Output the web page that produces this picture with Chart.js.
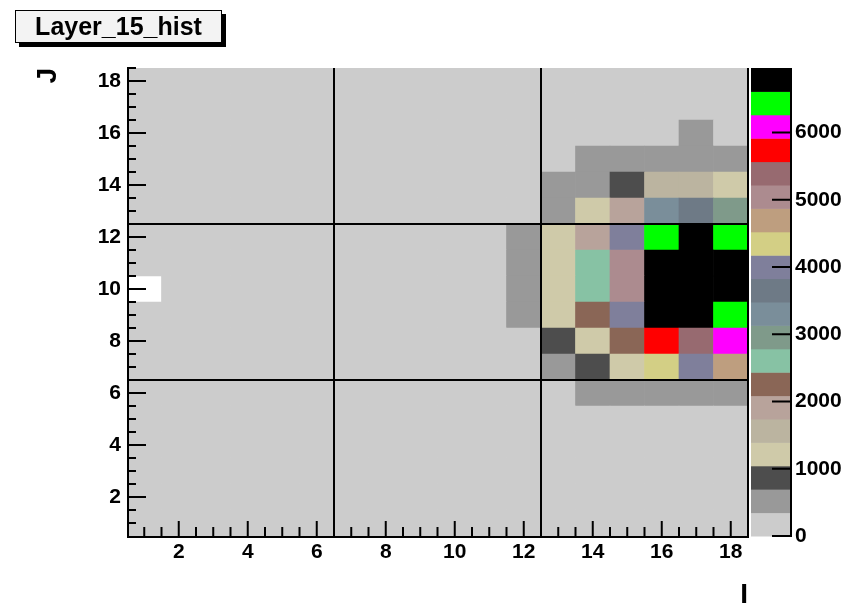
<!DOCTYPE html>
<html>
<head>
<meta charset="utf-8">
<title>Layer_15_hist</title>
<script src="https://cdn.jsdelivr.net/npm/chart.js@4.4.1/dist/chart.umd.min.js"></script>
<style>
    body { margin: 0; background: #fff; }
    #wrap { position: relative; width: 849px; height: 606px; }
    #histTitle {
        position: absolute; left: 15px; top: 10px;
        width: 207px; height: 33px; box-sizing: border-box;
        border: 1px solid #000; background: #f3f3f3;
        box-shadow: 4px 4px 0 #000;
        font: bold 25px "Liberation Sans", Arial, sans-serif;
        line-height: 31px; text-align: center; color: #000;
    }
</style>
</head>
<body>
<div id="wrap">
    <canvas id="layer-hist" width="849" height="606"></canvas>
    <div id="histTitle">Layer_15_hist</div>
</div>
<script>
'use strict';

// bin centres
const binsI = [1, 2, 3, 4, 5, 6, 7, 8, 9, 10, 11, 12, 13, 14, 15, 16, 17, 18];
const binsJ = [1, 2, 3, 4, 5, 6, 7, 8, 9, 10, 11, 12, 13, 14, 15, 16, 17, 18];

// cell contents, one array per J row, I = 1..18
const rowJ1  = [120, 120, 120, 120, 120, 120, 120, 120, 120, 120, 120, 120, 120, 120, 120, 120, 120, 120];
const rowJ2  = [120, 120, 120, 120, 120, 120, 120, 120, 120, 120, 120, 120, 120, 120, 120, 120, 120, 120];
const rowJ3  = [120, 120, 120, 120, 120, 120, 120, 120, 120, 120, 120, 120, 120, 120, 120, 120, 120, 120];
const rowJ4  = [120, 120, 120, 120, 120, 120, 120, 120, 120, 120, 120, 120, 120, 120, 120, 120, 120, 120];
const rowJ5  = [120, 120, 120, 120, 120, 120, 120, 120, 120, 120, 120, 120, 120, 120, 120, 120, 120, 120];
const rowJ6  = [120, 120, 120, 120, 120, 120, 120, 120, 120, 120, 120, 120, 120, 520, 520, 520, 520, 520];
const rowJ7  = [120, 120, 120, 120, 120, 120, 120, 120, 120, 120, 120, 120, 520, 870, 1220, 4350, 4000, 4700];
const rowJ8  = [120, 120, 120, 120, 120, 120, 120, 120, 120, 120, 120, 120, 870, 1220, 2260, 5740, 5390, 6090];
const rowJ9  = [120, 120, 120, 120, 120, 120, 120, 120, 120, 120, 120, 520, 1220, 2260, 4000, 6790, 6720, 6440];
const rowJ10 = [0, 120, 120, 120, 120, 120, 120, 120, 120, 120, 120, 520, 1220, 2610, 5050, 6880, 6960, 6850];
const rowJ11 = [120, 120, 120, 120, 120, 120, 120, 120, 120, 120, 120, 520, 1220, 2610, 5050, 6810, 6900, 6760];
const rowJ12 = [120, 120, 120, 120, 120, 120, 120, 120, 120, 120, 120, 520, 1220, 1910, 4000, 6440, 6700, 6440];
const rowJ13 = [120, 120, 120, 120, 120, 120, 120, 120, 120, 120, 120, 120, 520, 1220, 1910, 3310, 3650, 2960];
const rowJ14 = [120, 120, 120, 120, 120, 120, 120, 120, 120, 120, 120, 120, 520, 520, 870, 1570, 1570, 1220];
const rowJ15 = [120, 120, 120, 120, 120, 120, 120, 120, 120, 120, 120, 120, 120, 520, 520, 520, 520, 520];
const rowJ16 = [120, 120, 120, 120, 120, 120, 120, 120, 120, 120, 120, 120, 120, 120, 120, 120, 520, 120];
const rowJ17 = [120, 120, 120, 120, 120, 120, 120, 120, 120, 120, 120, 120, 120, 120, 120, 120, 120, 120];
const rowJ18 = [120, 120, 120, 120, 120, 120, 120, 120, 120, 120, 120, 120, 120, 120, 120, 120, 120, 120];

const rows = [rowJ1, rowJ2, rowJ3, rowJ4, rowJ5, rowJ6, rowJ7, rowJ8, rowJ9,
    rowJ10, rowJ11, rowJ12, rowJ13, rowJ14, rowJ15, rowJ16, rowJ17, rowJ18];

// overlay lines
const cutI = [6.5, 12.5];
const cutJ = [6.5, 12.5];

// axes
const axisTicks = [2, 4, 6, 8, 10, 12, 14, 16, 18];
const zTicks = [0, 1000, 2000, 3000, 4000, 5000, 6000];
const zMax = 6960;

// ROOT default palette, 20 contours, low to high
const palette = [
    '#cccccc', '#999999', '#4d4d4d', '#cfcaa9', '#bbb4a0',
    '#b8a39b', '#8a6656', '#87c2a4', '#7f9a8a', '#7a8e9a',
    '#6e7a86', '#7f7f9b', '#d3cf85', '#be9e7f', '#ac8b8f',
    '#976a70', '#ff0000', '#ff00ff', '#00ff00', '#000000',
];

function cellColor(v) {
    if (v <= 0) {
        return 'rgba(0,0,0,0)'; // empty bins are not painted
    }
    const k = Math.floor(v / (zMax / palette.length));
    return palette[Math.min(k, palette.length - 1)];
}

const labelFont = { family: '"Liberation Sans", Arial, sans-serif', size: 21, weight: 'bold' };
const titleFont = { family: '"Liberation Sans", Arial, sans-serif', size: 28, weight: 'bold', lineHeight: 0.8 };

const cellSets = binsJ.map(function (j, r) {
    return {
        type: 'bar',
        yAxisID: 'y',
        data: binsI.map(function (i) {
            return { x: i, y: [j - 0.5, j + 0.5] };
        }),
        backgroundColor: rows[r].map(cellColor),
        borderWidth: 0,
        barPercentage: 1,
        categoryPercentage: 1,
        order: 2,
    };
});

const lineStyle = {
    type: 'line',
    yAxisID: 'y',
    borderColor: '#000',
    borderWidth: 2,
    pointRadius: 0,
    fill: false,
    order: 0,
};
const cutSets = cutI.map(function (c) {
    return Object.assign({ data: [{ x: c, y: 0.5 }, { x: c, y: 18.5 }] }, lineStyle);
}).concat(cutJ.map(function (c) {
    return Object.assign({ data: [{ x: 0.5, y: c }, { x: 18.5, y: c }] }, lineStyle);
}));

// frame, inward ticks and palette axis, ROOT style
const rootFrame = {
    id: 'rootFrame',
    afterDraw(chart) {
        const { ctx, chartArea: a, scales } = chart;
        const x = scales.x, y = scales.y, z = scales.z;
        ctx.save();
        ctx.strokeStyle = '#000';
        ctx.lineWidth = 2;

        ctx.beginPath();
        for (let v = x.min + 0.5; v <= x.max + 1e-6; v += 0.5) {
            const px = x.getPixelForValue(v);
            const len = axisTicks.includes(v) ? 15 : 9;
            ctx.moveTo(px, a.bottom);
            ctx.lineTo(px, a.bottom - len);
        }
        for (let v = y.min + 0.5; v <= y.max + 1e-6; v += 0.5) {
            const py = y.getPixelForValue(v);
            const len = axisTicks.includes(v) ? 19 : 9;
            ctx.moveTo(a.left, py);
            ctx.lineTo(a.left + len, py);
        }
        // left and bottom axis, right frame edge
        ctx.moveTo(a.left + 1, a.top);
        ctx.lineTo(a.left + 1, a.bottom + 2);
        ctx.moveTo(a.left, a.bottom + 1);
        ctx.lineTo(a.right, a.bottom + 1);
        ctx.moveTo(a.right, a.top);
        ctx.lineTo(a.right, a.bottom + 2);
        ctx.stroke();

        // colour bar
        const bx0 = a.right + 3;
        const bx1 = a.right + 42;
        const step = zMax / palette.length;
        palette.forEach(function (c, k) {
            const yTop = z.getPixelForValue((k + 1) * step);
            const yBot = z.getPixelForValue(k * step);
            ctx.fillStyle = c;
            ctx.fillRect(bx0, yTop, bx1 - bx0, yBot - yTop + 0.5);
        });
        ctx.beginPath();
        ctx.moveTo(bx1 + 1, a.top);
        ctx.lineTo(bx1 + 1, a.bottom + 1);
        zTicks.forEach(function (v) {
            const py = z.getPixelForValue(v);
            ctx.moveTo(bx1 + 2, py);
            ctx.lineTo(bx1 - 18, py);
        });
        ctx.stroke();
        ctx.restore();
    },
};

function plainLabel(value) {
    return String(value);
}

new Chart(document.getElementById('layer-hist'), {
    type: 'bar',
    data: { datasets: cellSets.concat(cutSets) },
    options: {
        responsive: false,
        animation: false,
        events: [],
        layout: { padding: { top: 68, right: 0, bottom: 0, left: 0 } },
        scales: {
            x: {
                type: 'linear',
                stacked: true,
                offset: false,
                min: 0.5,
                max: 18.5,
                afterBuildTicks: function (s) { s.ticks = axisTicks.map(function (v) { return { value: v }; }); },
                afterFit: function (s) { s.height = 70; },
                ticks: { color: '#000', font: labelFont, padding: 4, maxRotation: 0, autoSkip: false, callback: plainLabel },
                grid: { display: false, drawTicks: false, offset: false },
                border: { display: false },
                title: { display: true, text: 'I', align: 'end', color: '#000', font: titleFont, padding: { top: 0, bottom: 0 } },
            },
            y: {
                type: 'linear',
                position: 'left',
                min: 0.5,
                max: 18.5,
                afterBuildTicks: function (s) { s.ticks = axisTicks.map(function (v) { return { value: v }; }); },
                afterFit: function (s) { s.width = 127; },
                ticks: { color: '#000', font: labelFont, padding: 6, autoSkip: false, callback: plainLabel },
                grid: { display: false, drawTicks: false },
                border: { display: false },
                title: { display: true, text: 'J', align: 'end', color: '#000', font: titleFont, padding: { top: 37, bottom: 0 } },
            },
            z: {
                type: 'linear',
                axis: 'y',
                position: 'right',
                min: 0,
                max: zMax,
                afterBuildTicks: function (s) { s.ticks = zTicks.map(function (v) { return { value: v }; }); },
                afterFit: function (s) { s.width = 101; },
                ticks: { color: '#000', font: labelFont, padding: 47, autoSkip: false, callback: plainLabel },
                grid: { display: false, drawTicks: false },
                border: { display: false },
            },
        },
        plugins: {
            legend: { display: false },
            tooltip: { enabled: false },
        },
    },
    plugins: [rootFrame],
});
</script>
</body>
</html>
